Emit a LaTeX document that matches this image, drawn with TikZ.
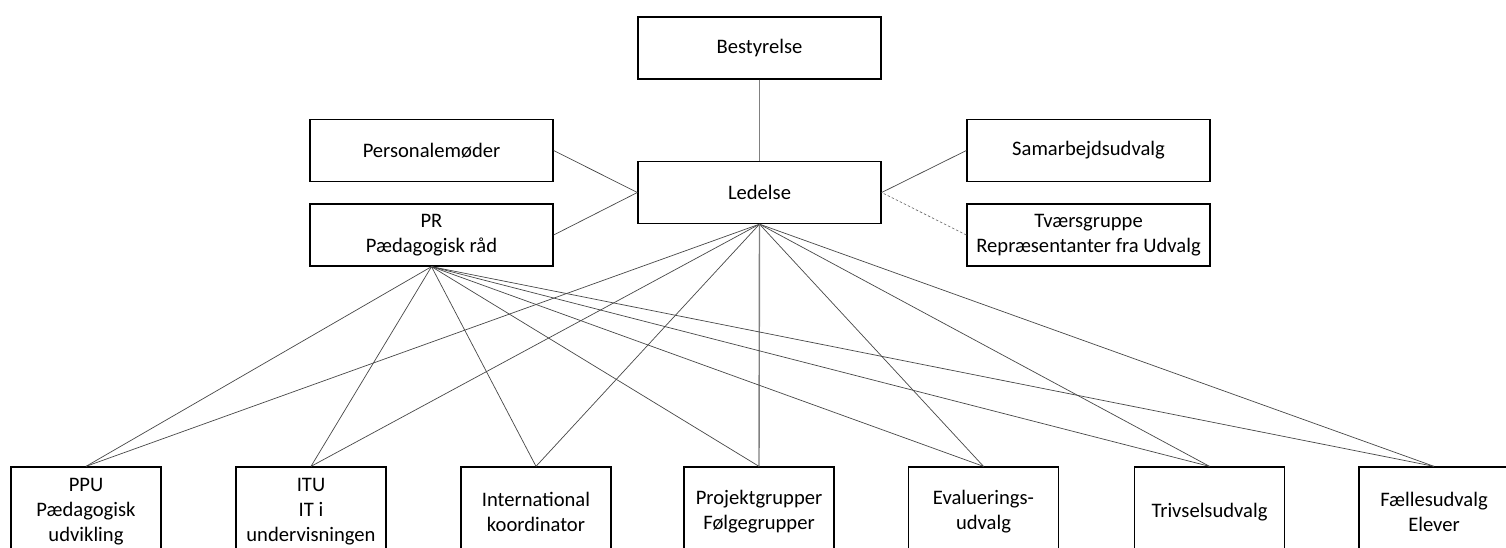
\documentclass[tikz,border=0pt]{standalone}
\usepackage{fontspec}
\setmainfont{Carlito}
\begin{document}
\begin{tikzpicture}[x=1pt,y=-1pt,
  box/.style={draw=black, line width=1.3pt, fill=white, align=center, inner sep=0pt,
    font=\fontsize{20.6}{25}\selectfont, minimum width=243pt, minimum height=62pt},
  lowbox/.style={box, minimum width=150pt, minimum height=90pt},
  conn/.style={draw=black!72, line width=0.7pt},
  vconn/.style={draw=black!50, line width=1.4pt},
  dconn/.style={draw=black!55, line width=0.7pt, dash pattern=on 2.5pt off 2pt}]
\useasboundingbox (0,0) rectangle (1506,547);
\clip (0,0) rectangle (1506,547);
\fill[white] (0,0) rectangle (1506,547);
% upper nodes
\node[box] (best) at (759.5,48) {Bestyrelse};
\node[box] (led) at (759.5,192.5) {Ledelse};
\node[box] (pers) at (431.5,150.5) {Personalemøder};
\node[box] (pr) at (431.5,235) {PR\\Pædagogisk råd};
\node[box] (sam) at (1088.5,150.5) {Samarbejdsudvalg};
\node[box] (tv) at (1088.5,235) {Tværsgruppe\\Repræsentanter fra Udvalg};
% lower nodes
\node[lowbox] (ppu) at (86,512) {PPU\\Pædagogisk\\udvikling};
\node[lowbox] (itu) at (311,512) {ITU\\IT i\\undervisningen};
\node[lowbox] (int) at (536,512) {International\\koordinator};
\node[lowbox] (proj) at (759,512) {Projektgrupper\\Følgegrupper};
\node[lowbox] (eval) at (983.5,512) {Evaluerings-\\udvalg};
\node[lowbox] (triv) at (1209.5,512) {Trivselsudvalg};
\node[lowbox] (fael) at (1434,512) {Fællesudvalg\\Elever};
% connectors
\path[vconn] (best.south) -- (led.north);
\path[conn] (pers.east) -- (led.west);
\path[conn] (pr.east) -- (led.west);
\path[conn] (sam.west) -- (led.east);
\path[dconn] (tv.west) -- (led.east);
\foreach \n in {ppu,itu,int,eval,triv,fael}{
  \path[conn] (led.south) -- (\n.north);
}
\path[vconn] (led.south) -- (proj.north);
\foreach \n in {ppu,itu,int,proj,eval,triv,fael}{
  \path[conn] (pr.south) -- (\n.north);
}
\end{tikzpicture}
\end{document}
